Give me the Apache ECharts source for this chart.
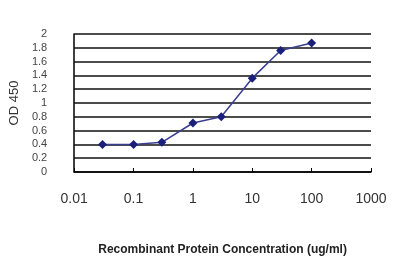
<!DOCTYPE html>
<html><head><meta charset="utf-8">
<script src="https://cdn.jsdelivr.net/npm/echarts@6/dist/echarts.min.js"></script>
<style>html,body{margin:0;padding:0;background:#fff}#c{width:400px;height:267px}</style>
</head><body><div id="c"></div>
<script>
const concentrations = [0.03, 0.1, 0.3, 1, 3, 10, 30, 100];
const odValues = [0.40, 0.40, 0.43, 0.71, 0.80, 1.36, 1.76, 1.87];
const xTitle = 'Recombinant Protein Concentration (ug/ml)';
const yTitle = 'OD 450';

const chart = echarts.init(document.getElementById('c'), null, {renderer: 'canvas'});
chart.setOption({
  animation: false,
  backgroundColor: '#fff',
  grid: {left: 69, right: 29, top: 34, bottom: 95},
  xAxis: {
    type: 'log', logBase: 10, min: 0.01, max: 1000,
    name: xTitle, nameLocation: 'middle', nameGap: 72,
    nameTextStyle: {fontSize: 12, fontWeight: 'bold', color: '#222', fontFamily: 'Liberation Sans, Arial'},
    axisLine: {lineStyle: {color: '#000', width: 1.5}},
    axisTick: {show: true, inside: true, length: 4, lineStyle: {color: '#000'}},
    axisLabel: {fontSize: 14, color: '#333', margin: 20, fontFamily: 'Liberation Sans, Arial',
      formatter: v => String(Number(Number(v).toPrecision(1)))},
    splitLine: {show: false},
    minorTick: {show: false}
  },
  yAxis: {
    type: 'value', min: 0, max: 2, interval: 0.2,
    name: yTitle, nameLocation: 'middle', nameRotate: 90, nameGap: 45,
    nameTextStyle: {fontSize: 13, color: '#333', fontFamily: 'Liberation Sans, Arial'},
    axisLine: {show: true, lineStyle: {color: '#000', width: 1.5}},
    axisTick: {show: false},
    axisLabel: {fontSize: 11, color: '#444', margin: 27, fontFamily: 'Liberation Sans Narrow, Liberation Sans, Arial',
      formatter: v => String(Math.round(v * 10) / 10)},
    splitLine: {show: true, lineStyle: {color: '#111', width: 1.5}}
  },
  series: [{
    type: 'line',
    data: concentrations.map((c, i) => [c, odValues[i]]),
    symbol: 'diamond', symbolSize: 9,
    lineStyle: {color: '#3a3f8f', width: 1.5},
    itemStyle: {color: '#1a1f7a'}
  }]
});
</script></body></html>
